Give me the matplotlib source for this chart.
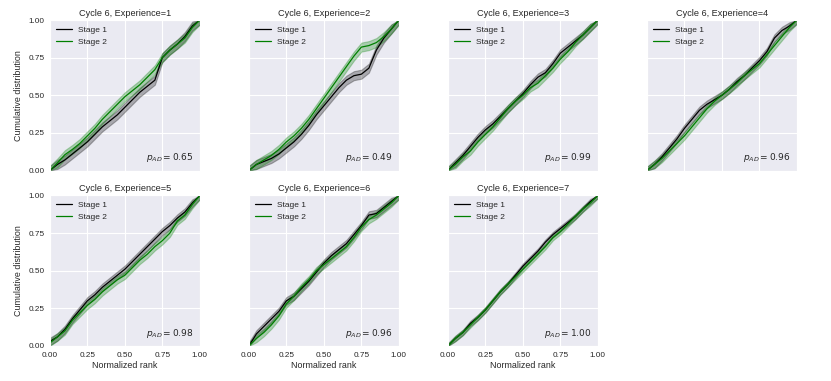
import matplotlib

matplotlib.use("Agg")
import matplotlib.pyplot as plt
import numpy as np
import seaborn as sns

sns.set_style("darkgrid")
plt.rcParams["font.family"] = ["Liberation Sans", "DejaVu Sans"]

ranks = np.linspace(0, 1, 21)

experiences = [1, 2, 3, 4, 5, 6, 7]
p_ad = [0.65, 0.49, 0.99, 0.96, 0.98, 0.96, 1.00]

stage1 = [
    [0, .04, .07, .11, .15, .19, .24, .29, .33, .37, .42, .47, .52, .56, .60, .75, .80, .84, .89, .96, 1.0],
    [0, .04, .06, .08, .11, .15, .19, .24, .30, .37, .43, .49, .55, .60, .63, .64, .68, .80, .88, .94, 1.0],
    [0, .05, .10, .16, .22, .27, .31, .36, .41, .46, .51, .57, .62, .65, .71, .78, .82, .86, .90, .95, 1.0],
    [0, .04, .09, .15, .21, .28, .34, .40, .44, .47, .50, .54, .59, .63, .68, .73, .79, .88, .93, .96, 1.0],
    [.03, .06, .11, .18, .24, .30, .34, .39, .43, .47, .51, .56, .61, .66, .71, .76, .80, .85, .89, .95, 1.0],
    [0, .08, .13, .18, .23, .30, .33, .38, .43, .49, .55, .60, .64, .68, .74, .80, .87, .88, .92, .96, 1.0],
    [0, .05, .09, .15, .19, .24, .30, .36, .41, .47, .53, .58, .63, .69, .74, .78, .82, .86, .91, .96, 1.0],
]
stage2 = [
    [0, .05, .105, .14, .18, .23, .28, .34, .39, .44, .49, .53, .57, .62, .67, .75, .80, .84, .88, .95, 1.0],
    [0, .04, .07, .10, .14, .19, .23, .28, .34, .41, .48, .55, .62, .69, .76, .82, .83, .85, .89, .94, 1.0],
    [0, .04, .09, .13, .19, .24, .29, .35, .41, .46, .50, .55, .58, .63, .68, .74, .79, .85, .90, .95, 1.0],
    [0, .04, .08, .13, .18, .23, .29, .35, .41, .46, .50, .54, .58, .63, .67, .71, .77, .83, .89, .95, 1.0],
    [.02, .06, .10, .17, .22, .27, .31, .36, .40, .44, .47, .52, .57, .61, .66, .70, .75, .83, .87, .94, 1.0],
    [0, .05, .09, .14, .20, .28, .33, .39, .44, .50, .54, .58, .62, .66, .72, .79, .84, .87, .91, .95, 1.0],
    [0, .05, .09, .14, .19, .24, .30, .36, .41, .46, .51, .56, .61, .66, .72, .76, .81, .86, .91, .95, 1.0],
]
# half-width of the shaded band around each curve
band = [0.03, 0.03, 0.025, 0.025, 0.025, 0.025, 0.018]

fig, axes = plt.subplots(2, 4, figsize=(8.31, 3.81), dpi=100, sharex=True, sharey=True)
fig.subplots_adjust(left=0.060, right=0.959, top=0.9475, bottom=0.0919,
                    wspace=0.327, hspace=0.166)

for i, ax in enumerate(axes.flat[:7]):
    for ys, color, label in [(stage1[i], "black", "Stage 1"), (stage2[i], "green", "Stage 2")]:
        ys = np.array(ys)
        ax.fill_between(ranks, np.clip(ys - band[i], 0, 1), np.clip(ys + band[i], 0, 1),
                        color=color, alpha=0.28, lw=0.8)
        ax.plot(ranks, ys, color=color, lw=0.9, label=label)
    ax.set_xlim(0, 1)
    ax.set_ylim(0, 1)
    ax.set_xticks([0, 0.25, 0.5, 0.75, 1.0])
    ax.set_yticks([0, 0.25, 0.5, 0.75, 1.0])
    ax.set_title(f"Cycle 6, Experience={experiences[i]}", fontsize=6.6, pad=3)
    ax.text(0.96, 0.04, f"$p_{{AD}} = {p_ad[i]:.2f}$", transform=ax.transAxes,
            ha="right", va="bottom", fontsize=6.5)
    ax.legend(loc="upper left", frameon=False, fontsize=6, handlelength=1.9,
              borderaxespad=0.3)
    ax.tick_params(labelsize=5.9, length=0, pad=4)
    ax.xaxis.set_major_formatter(matplotlib.ticker.FormatStrFormatter("%.2f"))
    ax.yaxis.set_major_formatter(matplotlib.ticker.FormatStrFormatter("%.2f"))

axes[1, 3].axis("off")
for ax in axes[:, 0]:
    ax.set_ylabel("Cumulative distribution", fontsize=6.4)
for ax in axes[1, :3]:
    ax.set_xlabel("Normalized rank", fontsize=6.4, labelpad=2)

fig.savefig("out.png", dpi=100)
